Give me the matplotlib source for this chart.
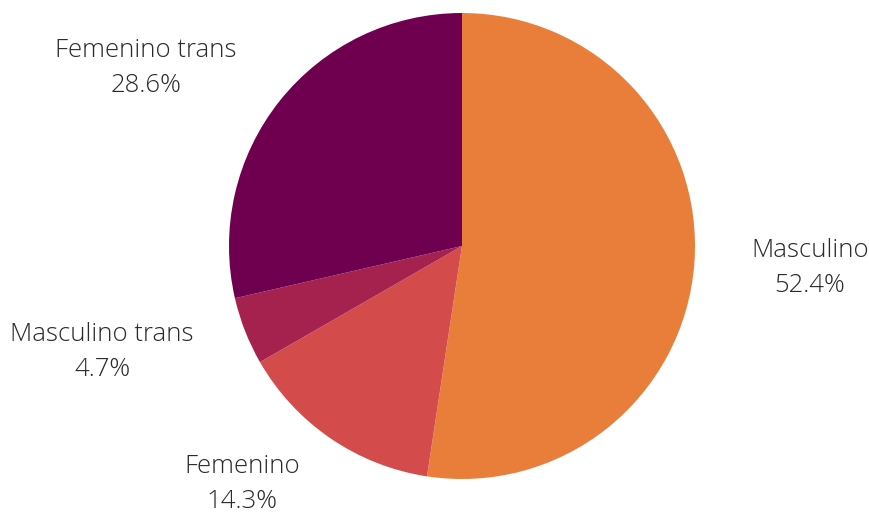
import matplotlib
matplotlib.use("Agg")
import matplotlib.pyplot as plt

categories = ["Masculino", "Femenino", "Masculino trans", "Femenino trans"]
values = [52.4, 14.3, 4.7, 28.6]
colors = ["#E97E3B", "#D34B4B", "#A5214E", "#6F0050"]

# label centres in data units (pie radius = 1)
label_pos = [(1.494, -0.094), (-0.944, -1.021), (-1.545, -0.455), (-1.356, 0.764)]

fig = plt.figure(figsize=(8.69, 5.12), dpi=100)
W, H = 869, 512
cx, cy, r = 462, 246, 233
ax = fig.add_axes([(cx - r) / W, (H - cy - r) / H, 2 * r / W, 2 * r / H])
ax.pie(values, colors=colors, startangle=90, counterclock=False, radius=1,
       wedgeprops=dict(linewidth=0))
ax.set_xlim(-1, 1)
ax.set_ylim(-1, 1)
ax.set_aspect("equal")
ax.axis("off")

for name, v, (x, y) in zip(categories, values, label_pos):
    ax.text(x, y, f"{name}\n{v:.1f}%", ha="center", va="center",
            fontsize=18.5, family="Open Sans", fontweight="light",
            color="#2a2a2a", linespacing=1.55, clip_on=False)

fig.savefig("out.png", dpi=100)
